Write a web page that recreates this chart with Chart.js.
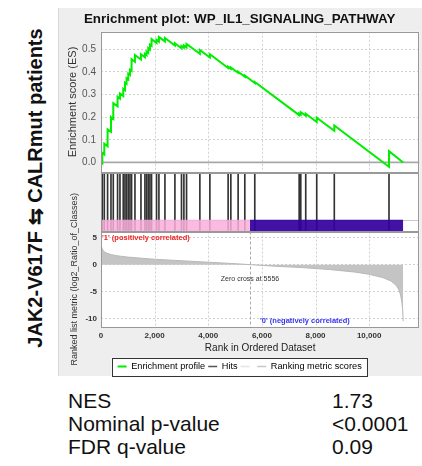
<!DOCTYPE html>
<html>
<head>
<meta charset="utf-8">
<script src="https://cdn.jsdelivr.net/npm/chart.js@4.4.1/dist/chart.umd.min.js"></script>
<style>
body { margin: 0; background: #fff; width: 422px; height: 466px; overflow: hidden; position: relative; font-family: "Liberation Sans", Arial, sans-serif; }
#panel { position: absolute; left: 58px; top: 8px; width: 364px; height: 368px; background: #eeeeee; border-left: 1px solid #d8d8d8; }
#wrap { position: absolute; left: 60px; top: 9px; width: 362px; height: 372px; }
#side { position: absolute; left: 35px; top: 188px; transform: translate(-50%, -50%) rotate(-90deg); white-space: nowrap; font-weight: bold; font-size: 20px; color: #111; }
.stat { position: absolute; font-size: 21px; line-height: 21px; color: #111; white-space: nowrap; }
</style>
</head>
<body>
<div id="panel"></div>
<div id="side">JAK2-V617F ⇆ CALRmut patients</div>
<div id="wrap"><canvas id="chart" width="362" height="372"></canvas></div>
<div class="stat" style="left:68px;top:390px">NES</div>
<div class="stat" style="left:332px;top:390px">1.73</div>
<div class="stat" style="left:68px;top:413px">Nominal p-value</div>
<div class="stat" style="left:332px;top:413px">&lt;0.0001</div>
<div class="stat" style="left:68px;top:436px">FDR q-value</div>
<div class="stat" style="left:332px;top:436px">0.09</div>
<script>
// ranked list
const listSize = 11270;
const zeroCross = 5556;

// gene set hits and running enrichment score (before / after each hit)
const hitRanks = [48, 123, 246, 372, 458, 618, 707, 830, 894, 953, 1017, 1080, 1140, 1266, 1490, 1638, 1700, 1762, 1825, 1885,
    2071, 2160, 2384, 2756, 3002, 3091, 3190, 3687, 4060, 4741, 4842, 5114, 5363, 5735, 7390, 7450, 7635, 8045, 8700, 10740];
const esBefore = [-0.004, 0.035, 0.072, 0.135, 0.192, 0.248, 0.282, 0.294, 0.319, 0.347, 0.366, 0.387, 0.405, 0.445, 0.455, 0.465, 0.474, 0.484, 0.499, 0.515,
    0.528, 0.534, 0.535, 0.517, 0.505, 0.507, 0.508, 0.480, 0.464, 0.417, 0.414, 0.396, 0.379, 0.351, 0.209, 0.211, 0.206, 0.179, 0.140, -0.019];
const esAfter = [0.042, 0.083, 0.146, 0.200, 0.262, 0.290, 0.305, 0.325, 0.352, 0.372, 0.393, 0.410, 0.456, 0.475, 0.478, 0.480, 0.490, 0.505, 0.520, 0.545,
    0.542, 0.555, 0.550, 0.527, 0.515, 0.517, 0.524, 0.497, 0.478, 0.423, 0.420, 0.401, 0.384, 0.356, 0.216, 0.222, 0.215, 0.198, 0.163, 0.050];
const esEnd = 0.0;

// ranked list metric
const metricRanks = [0, 15, 40, 80, 150, 250, 400, 600, 1000, 1500, 2000, 3000, 4000, 5000, 5556, 6500, 7500, 8500, 9500, 10000,
    10500, 10800, 11000, 11100, 11170, 11220, 11250, 11270];
const metricValues = [3.9, 3.4, 3.0, 2.6, 2.3, 2.05, 1.85, 1.65, 1.4, 1.2, 1.0, 0.72, 0.45, 0.18, 0.0, -0.3, -0.55, -0.9, -1.4, -1.8,
    -2.4, -3.0, -3.8, -4.6, -5.6, -7.0, -8.5, -10.5];

// ticks
const rankTicks = [0, 2000, 4000, 6000, 8000, 10000];
const esTicks = [0, 0.1, 0.2, 0.3, 0.4, 0.5];
const metricTicks = [5, 0, -5, -10];

Chart.defaults.font.family = "'Liberation Sans', Arial, sans-serif";

let esPoints = [{ x: 0, y: 0 }];
hitRanks.forEach((r, i) => {
    esPoints.push({ x: r, y: esBefore[i] });
    esPoints.push({ x: r, y: esAfter[i] });
});
esPoints.push({ x: listSize, y: esEnd });

const decor = {
    id: 'decor',
    beforeDraw(chart) {
        const c = chart.ctx, a = chart.chartArea;
        c.save();
        c.fillStyle = '#fff';
        c.fillRect(a.left, a.top, a.right - a.left, a.bottom - a.top);
        // legend frame
        const lg = chart.legend;
        if (lg && lg.lineWidths) {
            const pad = 3;
            const sx = (lg.left + pad + lg.right - lg.lineWidths[0]) / 2;
            const ex = sx + lg.lineWidths[0] - pad;
            const ty = lg.top + pad;
            c.fillStyle = '#fff';
            c.fillRect(sx - 6, ty - 4, ex - sx + 11, 18);
            c.strokeStyle = '#333';
            c.lineWidth = 1;
            c.strokeRect(Math.round(sx - 6) + 0.5, Math.round(ty - 4) + 0.5, Math.round(ex - sx + 11), 18);
        }
        c.restore();
    },
    beforeDatasetsDraw(chart) {
        const c = chart.ctx, a = chart.chartArea, x = chart.scales.x;
        const yE = chart.scales.yES, yH = chart.scales.yHits, yR = chart.scales.yRank;
        c.save();
        c.strokeStyle = '#d0d0d0';
        c.lineWidth = 1;
        c.setLineDash([2, 2]);
        rankTicks.slice(1).forEach(v => {
            const px = Math.round(x.getPixelForValue(v)) + 0.5;
            [yE, yR].forEach(s => {
                c.beginPath(); c.moveTo(px, s.top); c.lineTo(px, s.bottom); c.stroke();
            });
        });
        // zero cross
        c.strokeStyle = '#aaa';
        c.setLineDash([3, 2]);
        const zx = Math.round(x.getPixelForValue(zeroCross)) + 0.5;
        c.beginPath(); c.moveTo(zx, yR.top); c.lineTo(zx, yR.bottom); c.stroke();
        // ES zero line
        c.setLineDash([]);
        c.strokeStyle = '#a8a8a8';
        c.lineWidth = 1.6;
        const zy = yE.getPixelForValue(0);
        c.beginPath(); c.moveTo(a.left, zy); c.lineTo(a.right, zy); c.stroke();
        // colour bar top edge
        c.strokeStyle = '#c8c8c8';
        c.lineWidth = 1;
        const by = Math.round(yH.getPixelForValue(0.2)) + 0.5;
        c.beginPath(); c.moveTo(a.left, by); c.lineTo(a.right, by); c.stroke();
        c.restore();
    },
    afterDatasetsDraw(chart) {
        const c = chart.ctx, a = chart.chartArea, x = chart.scales.x;
        const yR = chart.scales.yRank;
        c.save();
        c.strokeStyle = '#999';
        c.lineWidth = 1;
        ['yES', 'yHits', 'yRank'].forEach(id => {
            const s = chart.scales[id];
            c.strokeRect(Math.round(a.left) + 0.5, Math.round(s.top) + 0.5, Math.round(a.right - a.left) - 1, Math.round(s.bottom - s.top));
        });
        c.textBaseline = 'middle';
        c.font = "bold 7.5px 'Liberation Sans', Arial, sans-serif";
        c.fillStyle = '#ee2222';
        c.textAlign = 'left';
        c.fillText("'1' (positively correlated)", x.getPixelForValue(0) + 1, yR.getPixelForValue(4.95));
        c.fillStyle = '#3333ee';
        c.fillText("'0' (negatively correlated)", x.getPixelForValue(5930), yR.getPixelForValue(-10.45));
        c.font = "7px 'Liberation Sans', Arial, sans-serif";
        c.fillStyle = '#333';
        c.textAlign = 'center';
        c.fillText('Zero cross at ' + zeroCross, x.getPixelForValue(zeroCross), yR.getPixelForValue(-2.65));
        c.restore();
    }
};

const ctx = document.getElementById('chart').getContext('2d');
const chart = new Chart(ctx, {
    type: 'line',
    data: {
        datasets: [{
            label: 'Enrichment profile',
            data: esPoints,
            yAxisID: 'yES',
            borderColor: '#00ee00',
            borderWidth: 2,
            pointRadius: 0,
            tension: 0,
            order: 0
        }, {
            type: 'bar',
            label: 'Hits',
            data: hitRanks.map(r => ({ x: r, y: [0.02, 0.965] })),
            yAxisID: 'yHits',
            backgroundColor: '#333',
            barThickness: 1,
            order: 2
        }, {
            label: 'pos',
            data: [{ x: 0, y: 0.2 }, { x: zeroCross, y: 0.2 }],
            yAxisID: 'yHits',
            fill: 'origin',
            backgroundColor: 'rgba(250,175,220,0.85)',
            borderColor: 'transparent',
            borderWidth: 0,
            pointRadius: 0,
            order: 1
        }, {
            label: 'neg',
            data: [{ x: zeroCross, y: 0.2 }, { x: listSize, y: 0.2 }],
            yAxisID: 'yHits',
            fill: 'origin',
            backgroundColor: 'rgba(52,0,160,0.93)',
            borderColor: 'transparent',
            borderWidth: 0,
            pointRadius: 0,
            order: 1
        }, {
            label: 'Ranking metric scores',
            data: metricRanks.map((r, i) => ({ x: r, y: metricValues[i] })),
            yAxisID: 'yRank',
            fill: 'origin',
            backgroundColor: '#c4c4c4',
            borderColor: '#b8b8b8',
            borderWidth: 1,
            pointRadius: 0,
            tension: 0,
            order: 3
        }]
    },
    options: {
        responsive: false,
        animation: false,
        devicePixelRatio: 1,
        layout: { padding: { left: 0, right: 2.7, top: 0, bottom: 0 } },
        plugins: {
            tooltip: { enabled: false },
            title: {
                display: true,
                text: 'Enrichment plot: WP_IL1_SIGNALING_PATHWAY',
                font: { size: 13.4, weight: 'bold' },
                color: '#111',
                padding: { top: 2.3, bottom: 4.3 }
            },
            legend: {
                position: 'bottom',
                labels: {
                    usePointStyle: true,
                    pointStyleWidth: 9,
                    padding: 3,
                    font: { size: 9.2 },
                    color: '#222',
                    generateLabels: () => [
                        { text: 'Enrichment profile', strokeStyle: '#00ee00', fillStyle: '#00ee00', lineWidth: 2, pointStyle: 'line', hidden: false },
                        { text: 'Hits', strokeStyle: '#555', fillStyle: '#555', lineWidth: 1.5, pointStyle: 'line', hidden: false },
                        { text: '', strokeStyle: '#e4e4e4', fillStyle: '#e4e4e4', lineWidth: 1.5, pointStyle: 'line', hidden: false },
                        { text: 'Ranking metric scores', strokeStyle: '#c8c8c8', fillStyle: '#c8c8c8', lineWidth: 1.5, pointStyle: 'line', hidden: false }
                    ]
                }
            }
        },
        scales: {
            x: {
                type: 'linear',
                min: 0,
                max: 11870,
                offset: false,
                afterBuildTicks: s => { s.ticks = rankTicks.map(v => ({ value: v })); },
                afterFit: s => { s.height = 32; },
                grid: { display: false, offset: false, drawTicks: false },
                border: { display: false },
                ticks: {
                    callback: v => v.toLocaleString('en-US'),
                    font: { size: 8, weight: 'bold' },
                    color: '#333',
                    padding: 4,
                    maxRotation: 0,
                    autoSkip: false
                },
                title: { display: true, text: 'Rank in Ordered Dataset', font: { size: 10 }, color: '#222', padding: { top: 0, bottom: 5 } }
            },
            // left stacked axes are laid out last-declared on top
            yRank: {
                type: 'linear',
                position: 'left',
                stack: 'gsea',
                stackWeight: 95,
                min: -11.55,
                max: 6.15,
                afterBuildTicks: s => { s.ticks = metricTicks.map(v => ({ value: v })); },
                afterFit: s => { s.width = 41; },
                grid: { color: '#d0d0d0', drawTicks: false },
                border: { display: false, dash: [2, 2] },
                ticks: { font: { size: 8, weight: 'bold' }, color: '#333', padding: 4 },
                title: { display: true, text: 'Ranked list metric (log2_Ratio_of_Classes)', font: { size: 9 }, color: '#333', padding: { top: 9.6, bottom: 0 } }
            },
            yHits: {
                type: 'linear',
                position: 'left',
                stack: 'gsea',
                stackWeight: 59,
                min: 0,
                max: 1,
                afterFit: s => { s.width = 41; },
                grid: { display: false },
                border: { display: false },
                ticks: { display: false }
            },
            yES: {
                type: 'linear',
                position: 'left',
                stack: 'gsea',
                stackWeight: 140.3,
                min: -0.044,
                max: 0.578,
                afterBuildTicks: s => { s.ticks = esTicks.map(v => ({ value: v })); },
                afterFit: s => { s.width = 41; },
                grid: { color: '#d0d0d0', drawTicks: false },
                border: { display: false, dash: [2, 2] },
                ticks: { callback: v => v.toFixed(1), font: { size: 10 }, color: '#555', padding: 5 },
                title: { display: true, text: 'Enrichment score (ES)', font: { size: 11 }, color: '#333', padding: { top: 6.7, bottom: 0 } }
            }
        }
    },
    plugins: [decor]
});
</script>
</body>
</html>
